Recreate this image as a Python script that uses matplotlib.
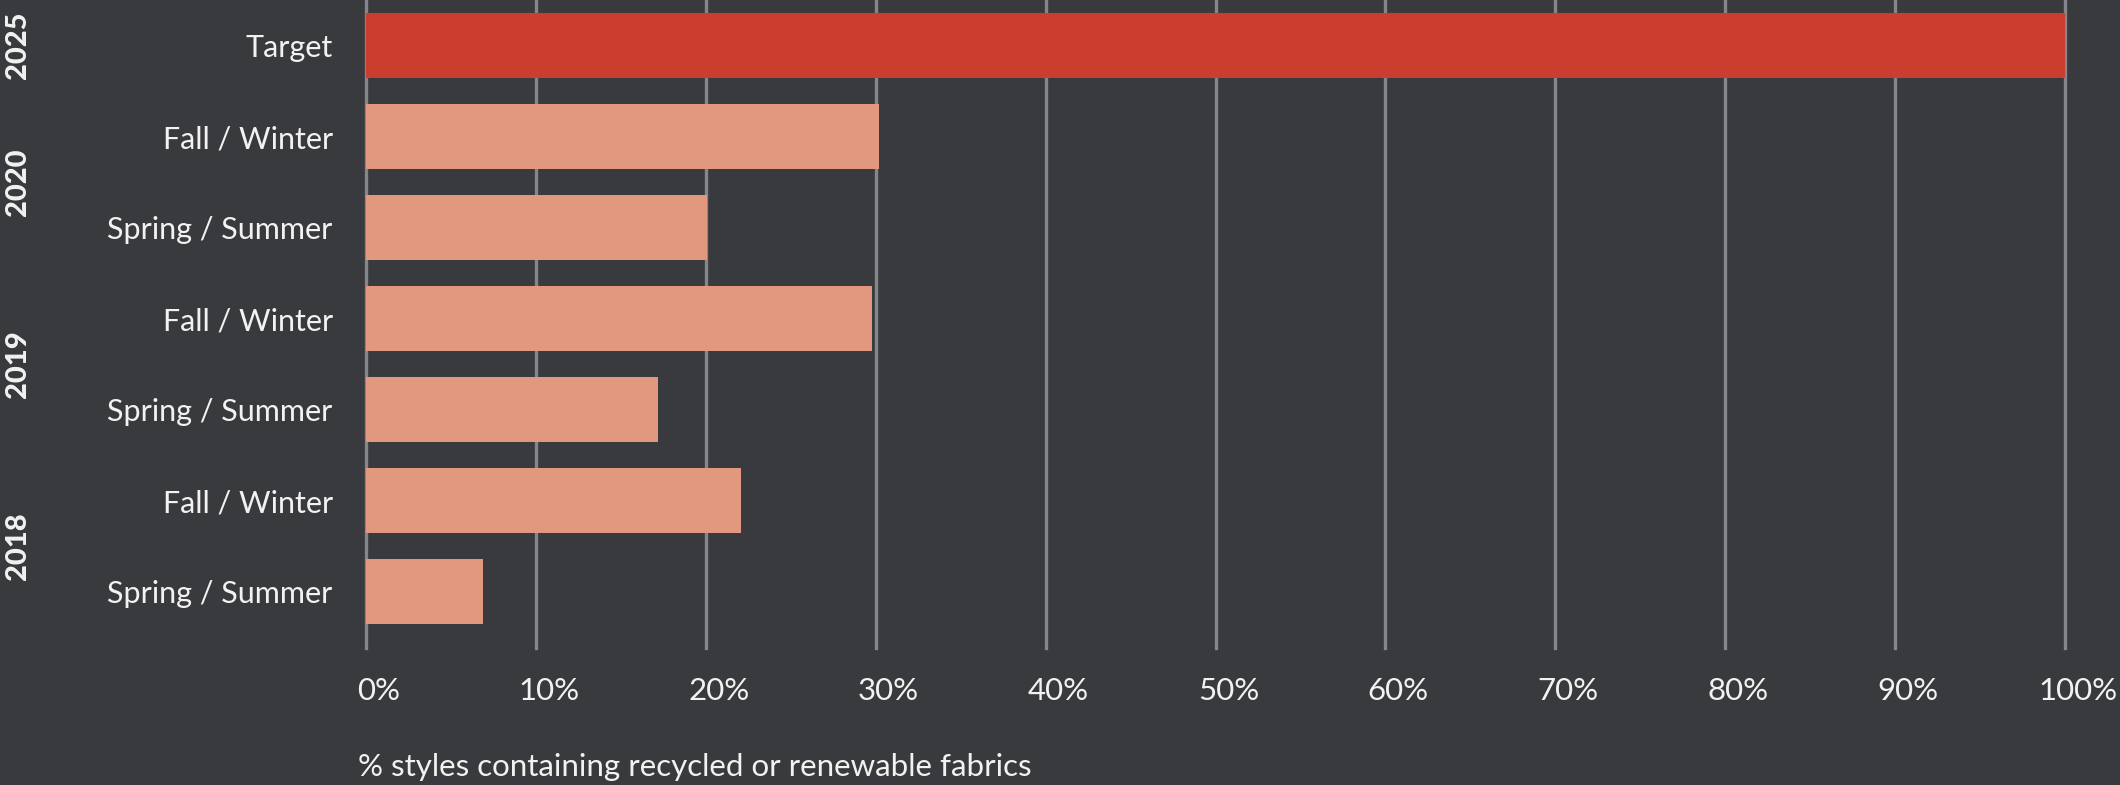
import matplotlib.pyplot as plt
import matplotlib.transforms as mtransforms

# Dữ liệu
labels = ['Target', 'Fall / Winter', 'Spring / Summer', 'Fall / Winter',
          'Spring / Summer', 'Fall / Winter', 'Spring / Summer']
values = [100, 30.2, 20.1, 29.8, 17.2, 22.1, 6.9]
years = ['2025', '2020', '2019', '2018']
year_pos = [0, 1.5, 3.5, 5.5]   # vị trí nhãn năm (theo trục y)
xticks = list(range(0, 101, 10))

bg = '#393a3e'
txt = '#f2f2f0'
colors = ['#cb3d2f'] + ['#e2987f'] * (len(values) - 1)

plt.rcParams['font.family'] = ['Lato', 'DejaVu Sans']

fig = plt.figure(figsize=(21.2, 7.85), dpi=100, facecolor=bg)
ax = fig.add_axes([366 / 2120, 137 / 785, 1699 / 2120, 648 / 785])
ax.set_facecolor(bg)

y = list(range(len(values)))
ax.barh(y, values, height=0.714, color=colors, zorder=3)

ax.set_xlim(0, 100)
ax.set_ylim(6.62, -0.5)
ax.set_xticks(xticks)
ax.set_xticklabels([f'{t}%' for t in xticks])
ax.set_yticks(y)
ax.set_yticklabels(labels)
ax.tick_params(axis='x', length=0, pad=21, labelsize=22.5, colors=txt)
ax.tick_params(axis='y', length=0, pad=24, labelsize=22, colors=txt)

# nhãn trục x hơi lệch sang phải như bản gốc
shift = mtransforms.ScaledTranslation(13 / 100, 0, fig.dpi_scale_trans)
for lbl in ax.get_xticklabels():
    lbl.set_transform(lbl.get_transform() + shift)

ax.grid(axis='x', color='#85868b', linewidth=2.4, zorder=0)
for g in ax.get_xgridlines():
    g.set_clip_on(False)
ax.grid(axis='y', visible=False)
for s in ax.spines.values():
    s.set_visible(False)

# Nhãn năm xoay dọc
trans = mtransforms.blended_transform_factory(fig.transFigure, ax.transData)
for yr, p in zip(years, year_pos):
    ax.text(18 / 2120, p, yr, transform=trans, rotation=90, ha='center',
            va='center', fontsize=21, fontweight='black', color=txt)

fig.text(358 / 2120, 1 - 767 / 785, '% styles containing recycled or renewable fabrics',
         ha='left', va='center', fontsize=22.5, color=txt)

fig.savefig('out.png', dpi=100, facecolor=bg)
